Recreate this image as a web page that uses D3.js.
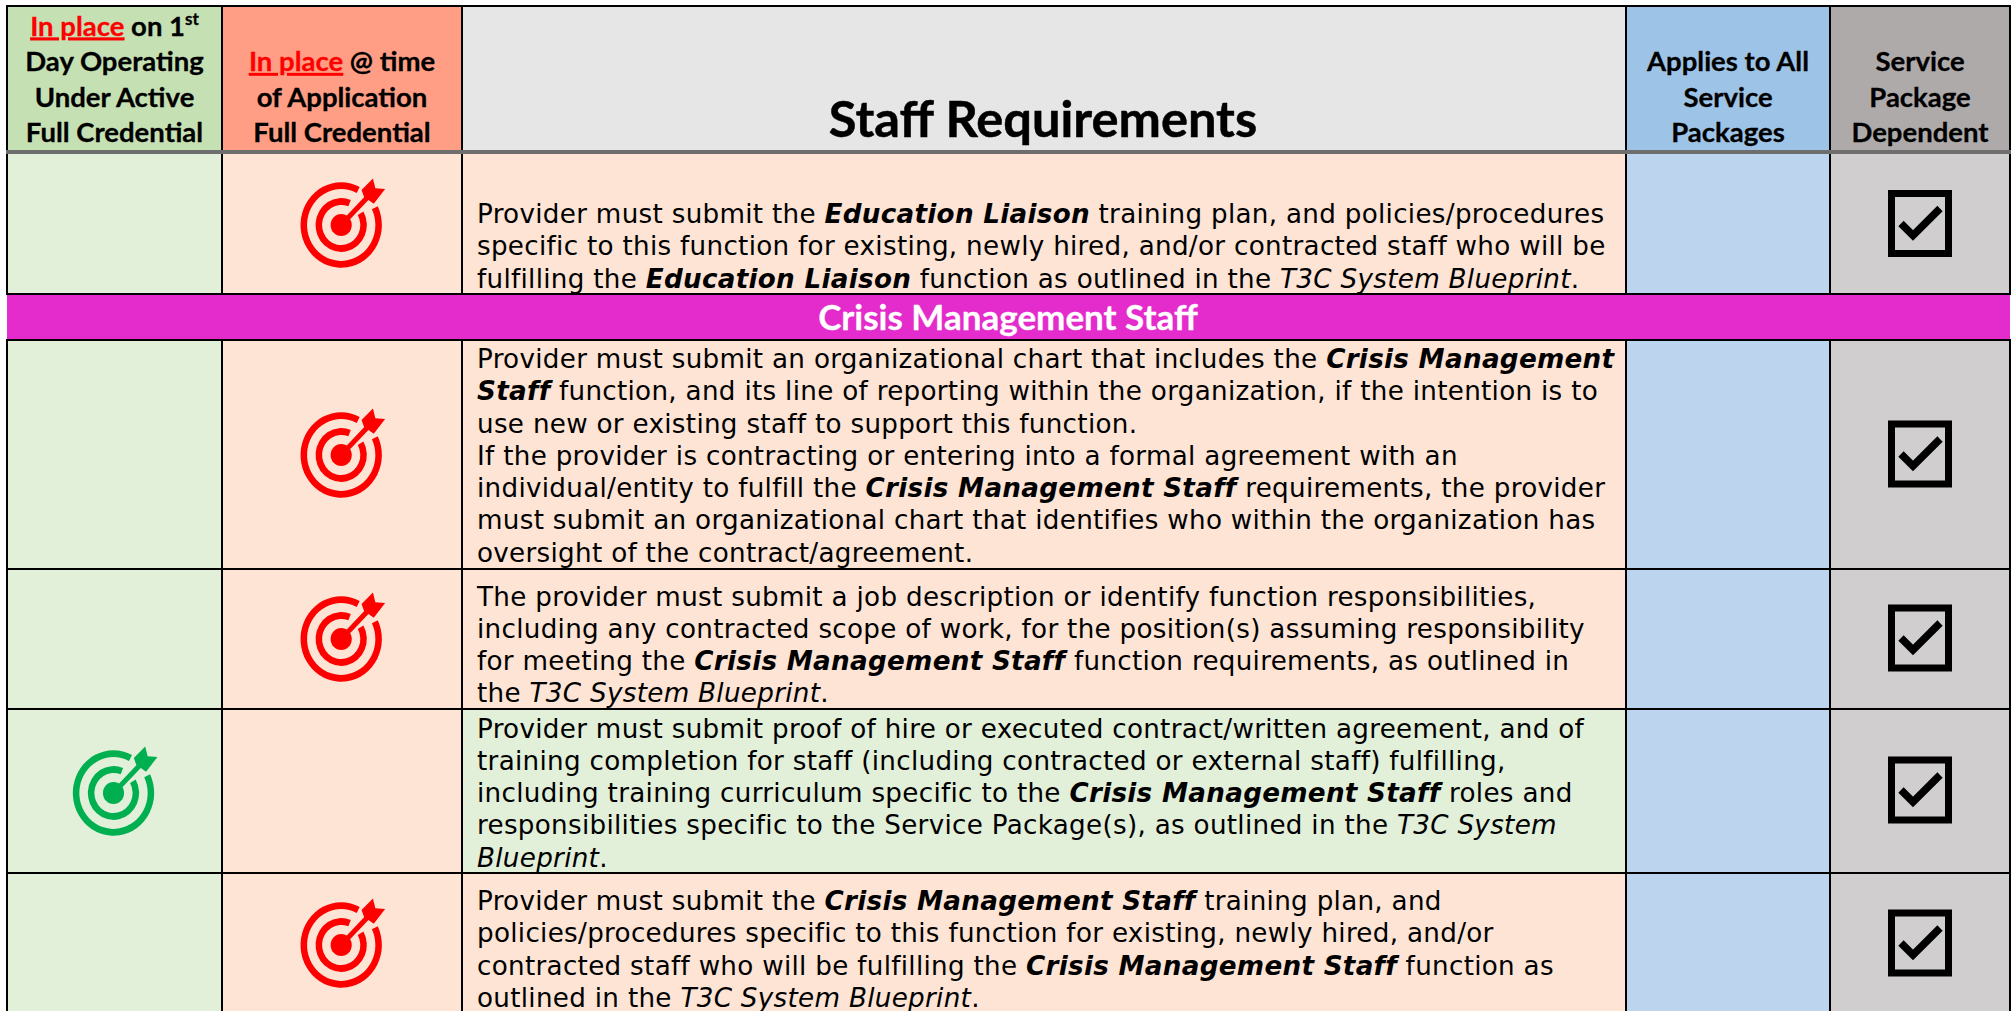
<!DOCTYPE html>
<html><head><meta charset="utf-8">
<script src="https://cdn.jsdelivr.net/npm/d3@7/dist/d3.min.js"></script>
<style>html,body{margin:0;padding:0;background:#fff;overflow:hidden}svg{display:block}</style>
</head><body><svg id="c" width="2011" height="1011"></svg>
<script>
// ---- data ----
const columns = ["firstDay","application","requirements","allPackages","dependent"];
const headerFills = ["#C5E0B3","#FF9E84","#E7E6E6","#9DC3E6","#AEAAAA"];
const bodyFills = ["#E2EFD9","#FDE4D5","#FDE4D5","#BDD4EE","#D0CECE"];
const headerLabels = [
  ["[[In place]] on 1^^st^^","Day Operating","Under Active","Full Credential"],
  ["[[In place]] @ time","of Application","Full Credential"],
  [],
  ["Applies to All","Service","Packages"],
  ["Service","Package","Dependent"]
];
const headerTitle = "Staff Requirements";
const sectionTitle = "Crisis Management Staff";
const rowKeys = ["header","r1","section","r2","r3","r4","r5"];
const rowTargets = [null,"application",null,"application","application","firstDay","application"];
const rowChecks = [false,true,false,true,true,true,true];
const rowText = [
 [],
 ["Provider must submit the **Education Liaison** training plan, and policies/procedures",
  "specific to this function for existing, newly hired, and/or contracted staff who will be",
  "fulfilling the **Education Liaison** function as outlined in the __T3C System Blueprint__."],
 [],
 ["Provider must submit an organizational chart that includes the **Crisis Management**",
  "**Staff** function, and its line of reporting within the organization, if the intention is to",
  "use new or existing staff to support this function.",
  "If the provider is contracting or entering into a formal agreement with an",
  "individual/entity to fulfill the **Crisis Management Staff** requirements, the provider",
  "must submit an organizational chart that identifies who within the organization has",
  "oversight of the contract/agreement."],
 ["The provider must submit a job description or identify function responsibilities,",
  "including any contracted scope of work, for the position(s) assuming responsibility",
  "for meeting the **Crisis Management Staff** function requirements, as outlined in",
  "the __T3C System Blueprint__."],
 ["Provider must submit proof of hire or executed contract/written agreement, and of",
  "training completion for staff (including contracted or external staff) fulfilling,",
  "including training curriculum specific to the **Crisis Management Staff** roles and",
  "responsibilities specific to the Service Package(s), as outlined in the __T3C System__",
  "__Blueprint__."],
 ["Provider must submit the **Crisis Management Staff** training plan, and",
  "policies/procedures specific to this function for existing, newly hired, and/or",
  "contracted staff who will be fulfilling the **Crisis Management Staff** function as",
  "outlined in the __T3C System Blueprint__."]
];

// ---- layout ----
const colEdges = [7,222,462,1626,1830,2010];
const rowEdges = [6,152,294,340,569,709,873,1040];
const firstBaseline = [0,223,0,368,605.5,737.5,910];
const targetCentre = [0,225,0,455,639,793,945];
const checkCentre = [0,223.5,0,454,638,790,943];
const lineGap = 32.25;
const idx = d3.scaleOrdinal(columns, d3.range(columns.length));
const x0 = c => colEdges[idx(c)], x1 = c => colEdges[idx(c)+1];
const ry0 = d3.scaleOrdinal(rowKeys, rowEdges.slice(0,-1));
const ry1 = d3.scaleOrdinal(rowKeys, rowEdges.slice(1));
const svg = d3.select("#c");
const BODY = "'DejaVu Sans',Verdana,sans-serif", HEAD = "Lato,Carlito,Calibri,sans-serif";
const bodySize = 26.2, headSize = 27.5;

function tokens(s){
  const out=[]; const re=/\*\*(.+?)\*\*|__(.+?)__|\[\[(.+?)\]\]|\^\^(.+?)\^\^|([^*_\[\^]+)/g; let m;
  while((m=re.exec(s))){
    if(m[1]) out.push({t:m[1],k:"bi"}); else if(m[2]) out.push({t:m[2],k:"i"});
    else if(m[3]) out.push({t:m[3],k:"red"}); else if(m[4]) out.push({t:m[4],k:"sup"});
    else out.push({t:m[5],k:"n"});
  }
  return out;
}
function runs(sel){
  sel.selectAll("tspan").data(d=>tokens(d)).join("tspan")
    .text(d=>d.t)
    .attr("font-weight",d=>d.k==="bi"?700:null)
    .attr("font-style",d=>(d.k==="bi"||d.k==="i")?"italic":null)
    .attr("fill",d=>d.k==="red"?"#FF0000":null)
    .attr("stroke",d=>d.k==="red"?"#FF0000":null)
    .attr("text-decoration",d=>d.k==="red"?"underline":null)
    .attr("font-size",d=>d.k==="sup"?17:null)
    .attr("dy",d=>d.k==="sup"?-11:null);
}

// cells
const dataRows = rowKeys.map((r,i)=>({r,i})).filter(d=>d.r!=="section");
svg.selectAll("g.row").data(dataRows).join("g").attr("class","row").each(function(row){
  d3.select(this).selectAll("rect").data(columns).join("rect")
    .attr("x",c=>x0(c)).attr("width",c=>x1(c)-x0(c))
    .attr("y",ry0(row.r)).attr("height",ry1(row.r)-ry0(row.r))
    .attr("fill",(c,i)=>{
      if(row.r==="header") return headerFills[i];
      if(c==="requirements") return rowTargets[row.i]==="firstDay"?bodyFills[0]:bodyFills[1];
      return bodyFills[i];
    });
});
// section band
svg.append("rect").attr("x",colEdges[0]).attr("width",colEdges[5]-colEdges[0])
  .attr("y",ry0("section")).attr("height",ry1("section")-ry0("section")).attr("fill","#E42BCB");

// grid
const vRows = dataRows.map(d=>d.r);
svg.selectAll("g.v").data(vRows).join("g").attr("class","v").each(function(r){
  d3.select(this).selectAll("line").data(colEdges).join("line")
    .attr("x1",d=>d).attr("x2",d=>d).attr("y1",ry0(r)).attr("y2",ry1(r))
    .attr("stroke","#000").attr("stroke-width",2);
});
svg.selectAll("line.h").data(rowEdges.slice(0,-1)).join("line").attr("class","h")
  .attr("x1",colEdges[0]-1).attr("x2",colEdges[5]+1).attr("y1",d=>d).attr("y2",d=>d)
  .attr("stroke",(d,i)=>i===1?"#6E6E6E":"#000").attr("stroke-width",(d,i)=>i===1?4:2);

// header text
columns.forEach((c,i)=>{
  const cx=(x0(c)+x1(c))/2, n=headerLabels[i].length;
  svg.selectAll("text.h"+i).data(headerLabels[i]).join("text").attr("class","h"+i)
    .attr("x",cx).attr("y",(d,j)=>142-(n-1-j)*35.5)
    .attr("text-anchor","middle").attr("font-family",HEAD).attr("font-weight",700)
    .attr("font-size",headSize).attr("fill","#000").attr("stroke","#000").attr("stroke-width",0.3).call(runs);
});
svg.append("text").text(headerTitle).attr("x",1043).attr("y",137).attr("text-anchor","middle")
  .attr("font-family",HEAD).attr("font-weight",700).attr("font-size",50.6).attr("fill","#000").attr("stroke","#000").attr("stroke-width",0.5);
svg.append("text").text(sectionTitle).attr("x",1008).attr("y",330).attr("text-anchor","middle")
  .attr("font-family",HEAD).attr("font-weight",700).attr("font-size",35).attr("fill","#fff").attr("stroke","#fff").attr("stroke-width",0.3);

// body text
rowKeys.forEach((r,i)=>{
  svg.selectAll("text.b"+i).data(rowText[i]).join("text").attr("class","b"+i)
    .attr("x",x0("requirements")+15).attr("y",(d,j)=>firstBaseline[i]+j*lineGap)
    .attr("font-family",BODY).attr("font-size",bodySize).attr("letter-spacing",0.3).attr("fill","#000").call(runs);
});

// target icon
const R=41.5;
const ringArc=d3.arc();
function target(g,color){
  const deg=Math.PI/180;
  g.append("path").attr("fill",color).attr("d",ringArc({innerRadius:R*.84,outerRadius:R,startAngle:64*deg,endAngle:(360+27)*deg}));
  g.append("path").attr("fill",color).attr("d",ringArc({innerRadius:R*.47,outerRadius:R*.63,startAngle:60*deg,endAngle:(360+22)*deg}));
  g.append("circle").attr("r",R*.26).attr("fill",color);
  g.append("line").attr("x1",0).attr("y1",0).attr("x2",R*.68).attr("y2",-R*.68).attr("stroke",color).attr("stroke-width",R*.12);
  g.append("path").attr("fill",color).attr("d",d3.line()([[.78,-1.09],[.84,-.86],[1.08,-.84],[.80,-.50],[.56,-.66],[.50,-.82]].map(p=>[p[0]*R,p[1]*R])));
}
rowTargets.forEach((t,i)=>{
  if(!t) return;
  const g=svg.append("g").attr("transform",`translate(${(x0(t)+x1(t))/2-(t==="firstDay"?1:0.8)},${targetCentre[i]}) scale(0.98,1.03)`);
  target(g,t==="firstDay"?"#00B050":"#FF0000");
});
// check box
rowChecks.forEach((on,i)=>{
  if(!on) return;
  const g=svg.append("g").attr("transform",`translate(1920,${checkCentre[i]})`);
  g.append("rect").attr("x",-28.5).attr("y",-30).attr("width",57).attr("height",60).attr("fill","none").attr("stroke","#000").attr("stroke-width",7);
  g.append("path").attr("fill","none").attr("stroke","#000").attr("stroke-width",7.5)
    .attr("d",d3.line()([[-19,0],[-7,12],[20,-15]]));
});
</script></body></html>
